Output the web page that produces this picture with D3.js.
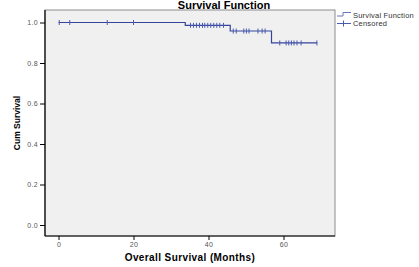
<!DOCTYPE html>
<html>
<head>
<meta charset="utf-8">
<script src="https://cdn.jsdelivr.net/npm/d3@7"></script>
<style>
  body { margin: 0; background: #fff; }
  svg { display: block; font-family: "Liberation Sans", Arial, sans-serif; }
</style>
</head>
<body>
<div id="chart"></div>
<script>
// Kaplan-Meier steps: time of each event and survival after it
const eventTimes = [33.8, 45.8, 56.8];
const survivalAfter = [0.986, 0.958, 0.899];
const endTime = 69;
// censored cases (months)
const censoredTimes = [0.2, 3, 13, 20,
  35.2, 36, 36.8, 37.6, 38.4, 39, 39.8, 40.6, 41.4, 42.2, 43, 44,
  46.6, 47.4, 49.4, 50.1, 50.8, 53.2, 54.3, 55.1,
  59, 60.7, 61.4, 62.1, 62.8, 63.6, 64.7, 68.9];
const xTicks = [0, 20, 40, 60];
const yTicks = [0, 0.2, 0.4, 0.6, 0.8, 1.0];

const width = 419, height = 267;
const plot = { left: 45, right: 335, top: 10, bottom: 236 };
const lineColor = "#35449c";

const svg = d3.select("#chart").append("svg")
  .attr("width", width).attr("height", height);

const x = d3.scaleLinear().domain([0, 60]).range([58.5, 283.5]);
const y = d3.scaleLinear().domain([0, 1]).range([225, 22.5]);

// plot background + frame
svg.append("rect")
  .attr("x", plot.left).attr("y", plot.top)
  .attr("width", plot.right - plot.left).attr("height", plot.bottom - plot.top)
  .attr("fill", "#f0f0f0").attr("stroke", "#8c8c8c").attr("stroke-width", 1);

// step function
function survAt(t) {
  let s = 1;
  eventTimes.forEach((e, i) => { if (t >= e) s = survivalAfter[i]; });
  return s;
}
const steps = [[0, 1]];
eventTimes.forEach((e, i) => {
  steps.push([e, i === 0 ? 1 : survivalAfter[i - 1]]);
  steps.push([e, survivalAfter[i]]);
});
steps.push([endTime, survivalAfter[survivalAfter.length - 1]]);

svg.append("path")
  .datum(steps)
  .attr("fill", "none")
  .attr("stroke", lineColor)
  .attr("stroke-width", 1.2)
  .attr("d", d3.line().x(d => x(d[0])).y(d => y(d[1])));

svg.append("g").selectAll("line")
  .data(censoredTimes)
  .enter().append("line")
  .attr("x1", d => x(d)).attr("x2", d => x(d))
  .attr("y1", d => y(survAt(d)) - 2.5)
  .attr("y2", d => y(survAt(d)) + 2.5)
  .attr("stroke", "#4a5cb0").attr("stroke-width", 1);

// axes
const yAxis = svg.append("g")
  .attr("transform", `translate(${plot.left},0)`)
  .call(d3.axisLeft(y).tickValues(yTicks).tickFormat(d3.format(".1f")).tickSize(5).tickPadding(2));
const xAxis = svg.append("g")
  .attr("transform", `translate(0,${plot.bottom})`)
  .call(d3.axisBottom(x).tickValues(xTicks).tickSize(4).tickPadding(2));
[xAxis, yAxis].forEach(g => {
  g.select(".domain").remove();
  g.selectAll("line").attr("stroke", "#000");
  g.selectAll("text").attr("font-size", 7).attr("fill", "#555")
    .attr("letter-spacing", 0.3)
    .attr("font-family", "'Liberation Sans', Arial, sans-serif");
});
svg.append("line")
  .attr("x1", plot.left).attr("x2", plot.left)
  .attr("y1", plot.top).attr("y2", plot.bottom)
  .attr("stroke", "#000").attr("stroke-width", 1.2);
svg.append("line")
  .attr("x1", plot.left).attr("x2", plot.right)
  .attr("y1", plot.bottom).attr("y2", plot.bottom)
  .attr("stroke", "#000").attr("stroke-width", 1.2);

// titles
svg.append("text")
  .attr("x", 224).attr("y", 9)
  .attr("text-anchor", "middle")
  .attr("font-size", 11).attr("font-weight", "bold")
  .text("Survival Function");

svg.append("text")
  .attr("x", (plot.left + plot.right) / 2).attr("y", 261)
  .attr("text-anchor", "middle")
  .attr("font-size", 10).attr("font-weight", "bold")
  .attr("letter-spacing", 0.4)
  .text("Overall Survival (Months)");

svg.append("text")
  .attr("transform", "translate(20,123) rotate(-90)")
  .attr("text-anchor", "middle")
  .attr("font-size", 8.5).attr("font-weight", "bold")
  .text("Cum Survival");

// legend
const lg = svg.append("g");
lg.append("path")
  .attr("d", "M337,16 H343 V12.5 H351")
  .attr("fill", "none").attr("stroke", "#6a77b8").attr("stroke-width", 1);
lg.append("line")
  .attr("x1", 337).attr("x2", 351).attr("y1", 23.5).attr("y2", 23.5)
  .attr("stroke", "#4a5cb0").attr("stroke-width", 1);
lg.append("line")
  .attr("x1", 343.5).attr("x2", 343.5).attr("y1", 20.5).attr("y2", 26.5)
  .attr("stroke", "#4a5cb0").attr("stroke-width", 1);
lg.selectAll("text")
  .data(["Survival Function", "Censored"])
  .enter().append("text")
  .attr("x", 353).attr("y", (d, i) => 18 + i * 8)
  .attr("font-size", 7.5).attr("fill", "#333")
  .attr("letter-spacing", 0.2)
  .text(d => d);
</script>
</body>
</html>
